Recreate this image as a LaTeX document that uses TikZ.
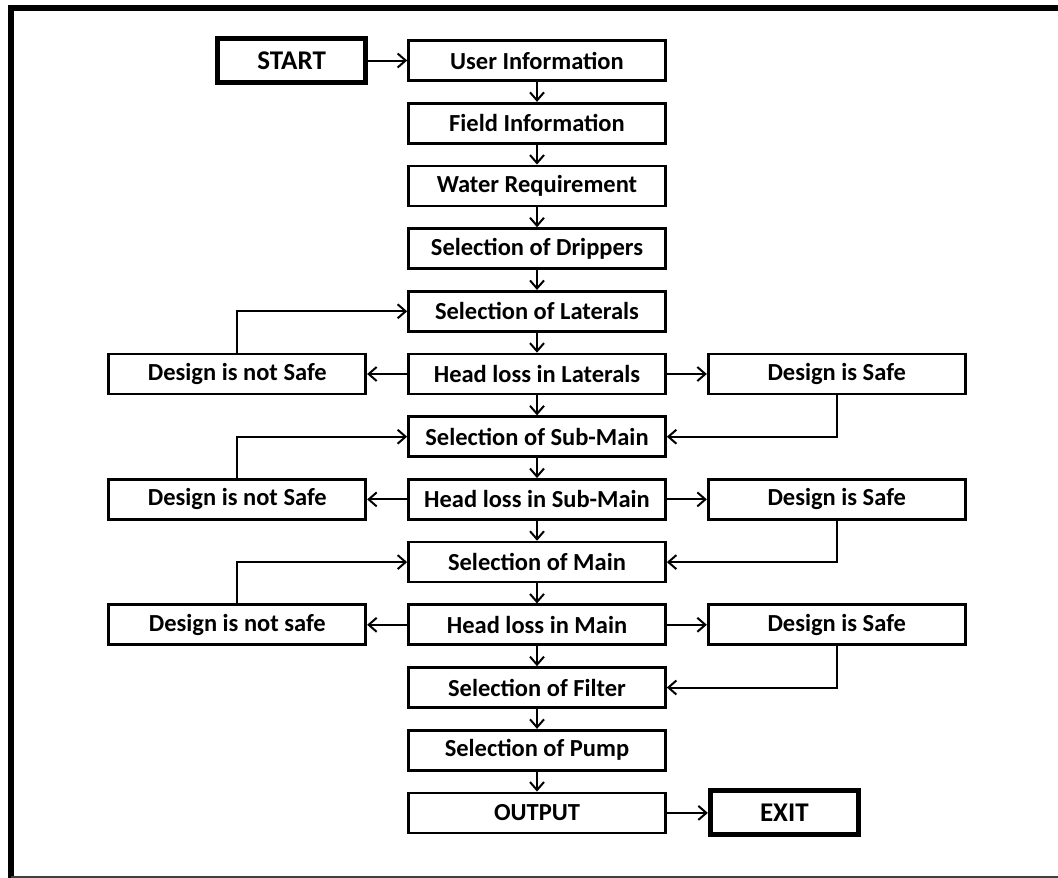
\documentclass[tikz,border=0pt]{standalone}
\usepackage{fontspec}
\setmainfont{Carlito}
\usetikzlibrary{arrows.meta}
\usetikzlibrary{positioning}

\begin{document}
\begin{tikzpicture}[x=1pt,y=-1pt,>={Straight Barb[length=8pt,width=14pt]},node distance=20pt,
    box/.style={draw,line width=2.7pt,minimum width=257pt,minimum height=40pt,inner sep=0pt,
      font=\fontsize{24.5}{28}\selectfont\bfseries},
    term/.style={draw,line width=5pt,minimum width=148pt,minimum height=44pt,inner sep=0pt,
      font=\fontsize{27}{30}\selectfont\bfseries}]

      \useasboundingbox (0,0) rectangle (1058,878);
      % frame
      \draw[line width=6pt] (11,878) -- (11,8) -- (1058,8);
      \draw[line width=1.5pt,black!75] (11,877) -- (1058,877);

      % main column
      \node (user) [box] at (537,60.5) {User Information};
      \node (field) [box,below=of user] {Field Information};
      \node (water) [box,below=of field] {Water Requirement};
      \node (drip) [box,below=of water] {Selection of Drippers};
      \node (lat) [box,below=of drip] {Selection of Laterals};
      \node (hllat) [box,below=of lat] {Head loss in Laterals};
      \node (sub) [box,below=of hllat] {Selection of Sub-Main};
      \node (hlsub) [box,below=of sub] {Head loss in Sub-Main};
      \node (main) [box,below=of hlsub] {Selection of Main};
      \node (hlmain) [box,below=of main] {Head loss in Main};
      \node (filter) [box,below=of hlmain] {Selection of Filter};
      \node (pump) [box,below=of filter] {Selection of Pump};
      \node (out) [box,below=of pump] {OUTPUT};

      % side boxes
      \node (nslat) [box,left=40pt of hllat] {Design is not Safe};
      \node (slat) [box,right=40pt of hllat] {Design is Safe};
      \node (nssub) [box,left=40pt of hlsub] {Design is not Safe};
      \node (ssub) [box,right=40pt of hlsub] {Design is Safe};
      \node (nsmain) [box,left=40pt of hlmain] {Design is not safe};
      \node (smain) [box,right=40pt of hlmain] {Design is Safe};

      % terminals
      \node (start) [term,left=39pt of user] {START};
      \node (exit) [term,right=41pt of out] {EXIT};

      \path[->,line width=2pt]
        (start) edge (user)
        (user) edge (field)
        (field) edge (water)
        (water) edge (drip)
        (drip) edge (lat)
        (lat) edge (hllat)
        (hllat) edge (sub)
            edge (nslat)
            edge (slat)
        (sub) edge (hlsub)
        (hlsub) edge (main)
            edge (nssub)
            edge (ssub)
        (main) edge (hlmain)
        (hlmain) edge (filter)
            edge (nsmain)
            edge (smain)
        (filter) edge (pump)
        (pump) edge (out)
        (out) edge (exit);

      % loops back and forward
      \draw[->,line width=2pt] (nslat.north) |- (lat.west);
      \draw[->,line width=2pt] (slat.south) |- (sub.east);
      \draw[->,line width=2pt] (nssub.north) |- (sub.west);
      \draw[->,line width=2pt] (ssub.south) |- (main.east);
      \draw[->,line width=2pt] (nsmain.north) |- (main.west);
      \draw[->,line width=2pt] (smain.south) |- (filter.east);
    \end{tikzpicture}
\end{document}
